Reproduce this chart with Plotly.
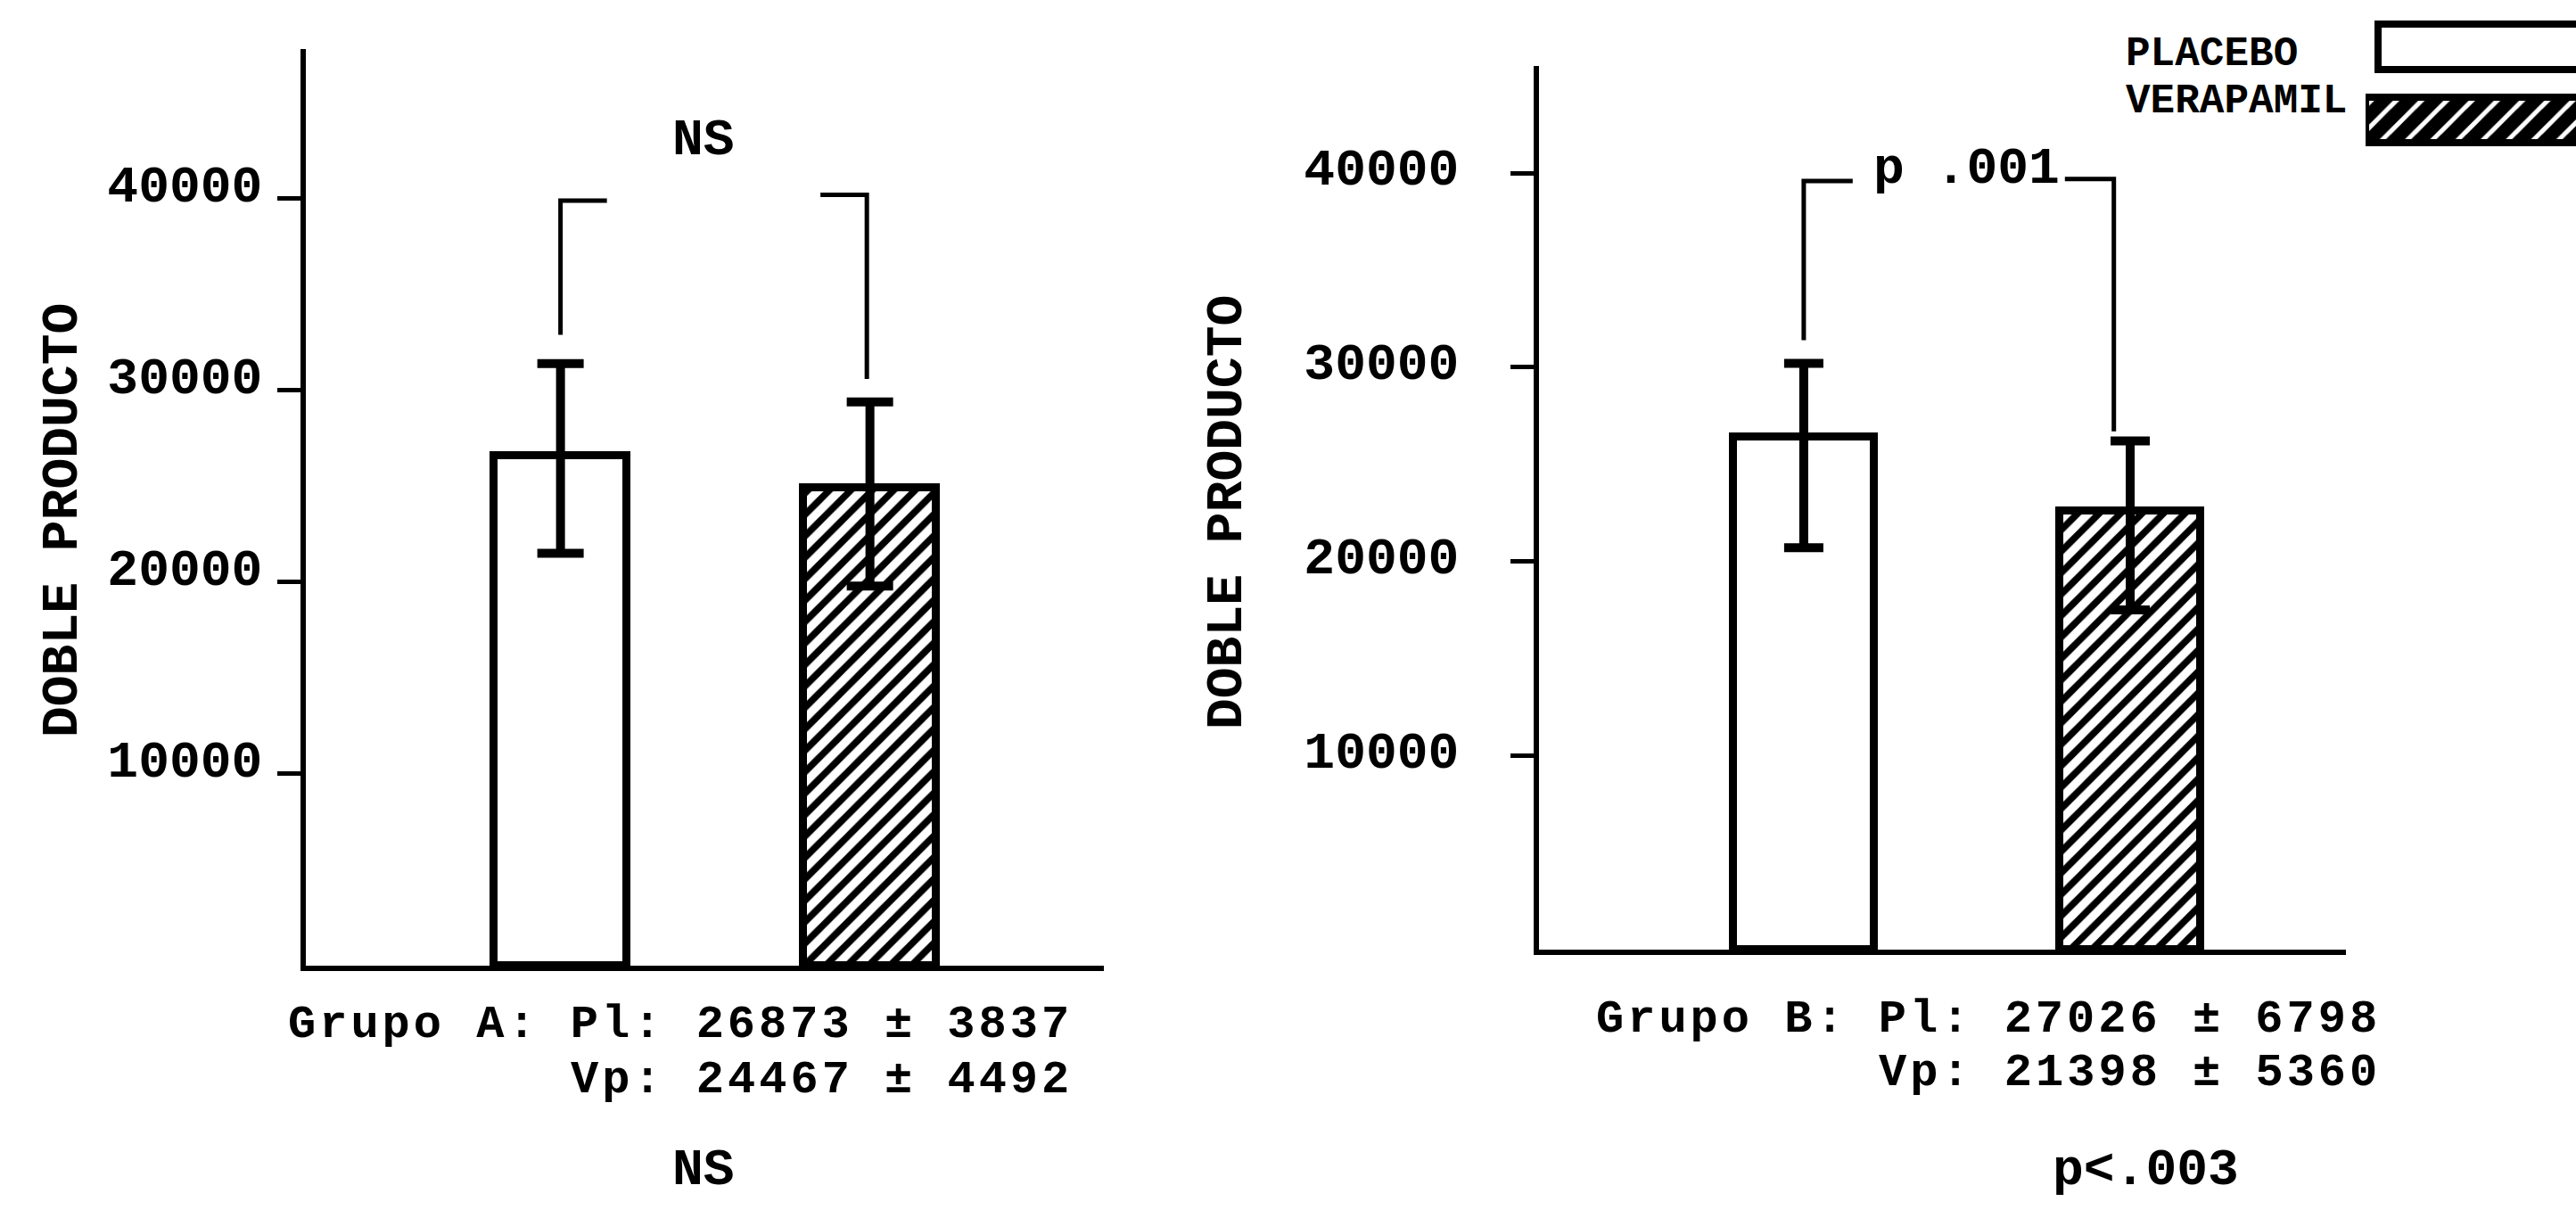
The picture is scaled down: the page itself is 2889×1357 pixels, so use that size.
import plotly.graph_objects as go

# ---------------- data ----------------
groups = ["Placebo", "Verapamil"]
bar_pos = [0, 1]

# Grupo A: drawn bar heights and error-bar ends
a_mean = [26600, 24900]
a_err_up = [4800, 4500]
a_err_down = [5100, 5100]

# Grupo B
b_mean = [26400, 22600]
b_err_up = [3800, 3600]
b_err_down = [5700, 5100]

y_ticks = [10000, 20000, 30000, 40000]
y_tick_text = ["10000", "20000", "30000", "40000"]

# significance brackets: x of both legs, top and bottom of both legs
bracket_a_x = [0, 0.99]
bracket_a_top = [39900, 40200]
bracket_a_bottom = [32900, 30600]
bracket_a_label = "NS"

bracket_b_x = [0, 0.95]
bracket_b_top = [39600, 39700]
bracket_b_bottom = [31400, 26700]
bracket_b_label = "p .001"

stats_a = ["Grupo A: Pl: 26873 ± 3837", "Vp: 24467 ± 4492"]
stats_b = ["Grupo B: Pl: 27026 ± 6798", "Vp: 21398 ± 5360"]
footer_a = "NS"
footer_b = "p<.003"
y_title = "DOBLE PRODUCTO"
legend_labels = ["PLACEBO", "VERAPAMIL"]

# ---------------- styling ----------------
W, H = 2889, 1357
FONT = "Liberation Mono"
BLACK = "black"
px = lambda v: v / W
py = lambda v: 1 - v / H

patterns = dict(shape=["", "/"], fgcolor=BLACK, bgcolor="white", fgopacity=1,
                size=17, solidity=0.45)

fig = go.Figure()


def add_panel(xa, ya, means, up, down, bx, btop, bbot, cap):
    fig.add_trace(go.Bar(
        x=bar_pos, y=means, width=0.43, xaxis=xa, yaxis=ya,
        marker=dict(color="white", line=dict(color=BLACK, width=9), pattern=patterns),
        error_y=dict(type="data", symmetric=False, array=up, arrayminus=down,
                     color=BLACK, thickness=10, width=cap),
        hoverinfo="skip", showlegend=False,
    ))
    stub = 0.15
    xs = [bx[0] + stub, bx[0], bx[0], None, bx[1] - stub, bx[1], bx[1]]
    ys = [btop[0], btop[0], bbot[0], None, btop[1], btop[1], bbot[1]]
    fig.add_trace(go.Scatter(x=xs, y=ys, mode="lines", xaxis=xa, yaxis=ya,
                             line=dict(color=BLACK, width=5), hoverinfo="skip",
                             showlegend=False, connectgaps=False))


add_panel("x", "y", a_mean, a_err_up, a_err_down, bracket_a_x, bracket_a_top, bracket_a_bottom, 26)
add_panel("x2", "y2", b_mean, b_err_up, b_err_down, bracket_b_x, bracket_b_top, bracket_b_bottom, 22)

# legend swatches drawn as clipped horizontal bars on a hidden axis
fig.add_trace(go.Bar(
    y=[1, 0], x=[30, 30], base=[0.6, 0], orientation="h", width=0.62,
    xaxis="x3", yaxis="y3",
    marker=dict(color="white", line=dict(color=BLACK, width=8),
                pattern=dict(shape=["", "/"], fgcolor=BLACK, bgcolor="white", fgopacity=1,
                             size=20, solidity=0.75)),
    hoverinfo="skip", showlegend=False,
))

xaxis_common = dict(showline=True, linewidth=6, linecolor=BLACK, showticklabels=False,
                    ticks="", showgrid=False, zeroline=False, fixedrange=True)
yaxis_common = dict(showline=True, linewidth=6, linecolor=BLACK, ticks="outside", ticklen=26,
                    tickwidth=5, tickcolor=BLACK, tickvals=y_ticks, ticktext=y_tick_text,
                    showgrid=False, zeroline=False,
                    tickfont=dict(family=FONT, size=58, color=BLACK, weight="bold"))

fig.update_layout(
    width=W, height=H, autosize=False,
    margin=dict(l=0, r=0, t=0, b=0, pad=0),
    paper_bgcolor="white", plot_bgcolor="rgba(0,0,0,0)",
    showlegend=False, bargap=0,
    xaxis=dict(domain=[px(343), px(1238)], range=[-0.823, 1.756], anchor="y", **xaxis_common),
    yaxis=dict(domain=[py(1083), py(55)], range=[0, 47800], anchor="x",
               ticklabelstandoff=5, ticklabelshift=-17, **yaxis_common),
    xaxis2=dict(domain=[px(1726), px(2631)], range=[-0.811, 1.661], anchor="y2", **xaxis_common),
    yaxis2=dict(domain=[py(1065), py(74)], range=[0, 45520], anchor="x2",
                ticklabelstandoff=46, ticklabelshift=-7, **yaxis_common),
    xaxis3=dict(domain=[px(2653), 1.0], range=[0, 10], anchor="y3", visible=False, fixedrange=True),
    yaxis3=dict(domain=[py(175), py(20)], range=[-0.5, 1.4], anchor="x3", visible=False, fixedrange=True),
)


def text(x, y, s, size=58, xanchor="center", angle=0, yanchor="middle", spacing=None):
    if spacing is not None:
        s = '<span style="letter-spacing:%dpx">%s</span>' % (spacing, s)
    fig.add_annotation(x=x, y=y, xref="paper", yref="paper", text=s, showarrow=False,
                       xanchor=xanchor, yanchor=yanchor, textangle=angle,
                       font=dict(family=FONT, size=size, color=BLACK, weight="bold"))


# y titles
text(px(70), py(584), y_title, angle=-90)
text(px(1376), py(575), y_title, angle=-90)

# bracket labels
text(px(789), py(157), bracket_a_label)
text(px(2205), py(190), bracket_b_label)

# statistics
text(px(1205), py(1149), stats_a[0], size=52, xanchor="right", spacing=4)
text(px(1205), py(1211), stats_a[1], size=52, xanchor="right", spacing=4)
text(px(2672), py(1143), stats_b[0], size=52, xanchor="right", spacing=4)
text(px(2672), py(1203), stats_b[1], size=52, xanchor="right", spacing=4)
text(px(789), py(1312), footer_a)
text(px(2406), py(1312), footer_b)

# legend labels
text(px(2382), py(61), legend_labels[0], size=46, xanchor="left")
text(px(2382), py(114), legend_labels[1], size=46, xanchor="left")

fig.write_html("out.html")
